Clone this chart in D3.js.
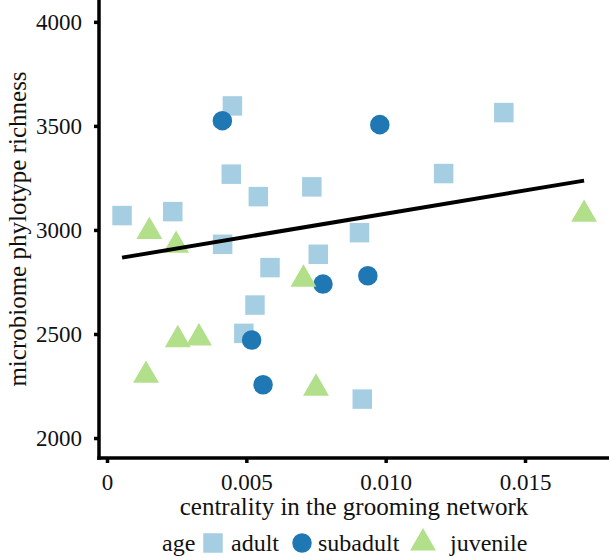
<!DOCTYPE html>
<html>
<head>
<meta charset="utf-8">
<script src="https://cdn.jsdelivr.net/npm/d3@7"></script>
<style>
  html, body { margin: 0; padding: 0; background: #fff; }
  svg { display: block; }
  text { font-family: "Liberation Serif", "Times New Roman", Times, serif; fill: #111; }
</style>
</head>
<body>
<svg id="chart" width="609" height="558"></svg>
<script>
// ---- data ----
const ageGroups = ["adult", "subadult", "juvenile"];
const ageColors = ["#a6cee3", "#1f78b4", "#b2df8a"];

const adultX = [0.00054, 0.00236, 0.00415, 0.00450, 0.00446, 0.00543, 0.00585, 0.00735, 0.00758, 0.00531, 0.00491, 0.00906, 0.00916, 0.01208, 0.01424];
const adultY = [3069, 3088, 2931, 3596, 3268, 3160, 2819, 3207, 2883, 2639, 2503, 2987, 2187, 3271, 3564];

const subadultX = [0.00414, 0.00979, 0.00775, 0.00936, 0.00519, 0.00560];
const subadultY = [3525, 3506, 2740, 2780, 2471, 2256];

const juvenileX = [0.00152, 0.00248, 0.00705, 0.00254, 0.00330, 0.00140, 0.00750, 0.01712];
const juvenileY = [2992, 2926, 2763, 2472, 2481, 2301, 2239, 3075];

const fitX = [0.00054, 0.01712];
const fitY = [2867, 3237];

const xTicks = [0, 0.005, 0.010, 0.015];
const xTickLabels = ["0", "0.005", "0.010", "0.015"];
const yTicks = [2000, 2500, 3000, 3500, 4000];

// ---- layout ----
const svg = d3.select("#chart");
const pLeft = 99, pRight = 609, pTop = 0, pBottom = 458;
const FONT = "'Liberation Serif', 'Times New Roman', Times, serif";

const x = d3.scaleLinear().domain([-0.000287, 0.018014]).range([pLeft, pRight]);
const y = d3.scaleLinear().domain([1904, 4105]).range([pBottom, pTop]);

const color = d3.scaleOrdinal().domain(ageGroups).range(ageColors);

const points = [];
adultX.forEach((v, i) => points.push({x: v, y: adultY[i], age: "adult"}));
subadultX.forEach((v, i) => points.push({x: v, y: subadultY[i], age: "subadult"}));
juvenileX.forEach((v, i) => points.push({x: v, y: juvenileY[i], age: "juvenile"}));

const shape = d3.scaleOrdinal().domain(ageGroups)
  .range([d3.symbolSquare, d3.symbolCircle, d3.symbolTriangle]);
const symSize = {adult: 380, subadult: 300, juvenile: 290};
const symbol = d3.symbol().type(d => shape(d.age)).size(d => symSize[d.age]);

const gPts = svg.append("g");
gPts.selectAll("path").data(points).enter().append("path")
  .attr("d", symbol)
  .attr("transform", d => `translate(${x(d.x)},${y(d.y)})`)
  .attr("fill", d => color(d.age));

// regression line
svg.append("line")
  .attr("x1", x(fitX[0])).attr("y1", y(fitY[0]))
  .attr("x2", x(fitX[1])).attr("y2", y(fitY[1]))
  .attr("stroke", "#000").attr("stroke-width", 4);

// axes
const xAxis = d3.axisBottom(x).tickValues(xTicks).tickFormat((d, i) => xTickLabels[i])
  .tickSize(5).tickPadding(11).tickSizeOuter(0);
const gx = svg.append("g").attr("transform", `translate(0,${pBottom})`).call(xAxis);
gx.attr("font-family", FONT).attr("font-size", 23);
gx.select(".domain").attr("stroke-width", 3.5).attr("d", `M${pLeft - 1.75},0H${pRight}`);
gx.selectAll(".tick line").attr("stroke-width", 3.5);
gx.selectAll(".tick text").attr("fill", "#111");

const yAxis = d3.axisLeft(y).tickValues(yTicks).tickFormat(d3.format("d"))
  .tickSize(5).tickPadding(12).tickSizeOuter(0);
const gy = svg.append("g").attr("transform", `translate(${pLeft},0)`).call(yAxis);
gy.attr("font-family", FONT).attr("font-size", 23);
gy.select(".domain").attr("stroke-width", 3.5).attr("d", `M0,${pTop}V${pBottom + 1.75}`);
gy.selectAll(".tick line").attr("stroke-width", 3.5);
gy.selectAll(".tick text").attr("fill", "#111");

// axis titles
svg.append("text")
  .attr("x", 354).attr("y", 515)
  .attr("text-anchor", "middle").attr("font-size", 25)
  .text("centrality in the grooming network");

svg.append("text")
  .attr("transform", `translate(26,${(pTop + pBottom) / 2}) rotate(-90)`)
  .attr("text-anchor", "middle").attr("font-size", 25)
  .text("microbiome phylotype richness");

// legend
const legY = 543;
const leg = svg.append("g");
leg.append("text").attr("x", 162).attr("y", legY + 8).attr("font-size", 24).text("age");
const legItems = [
  {age: "adult", sx: 213, tx: 231},
  {age: "subadult", sx: 302, tx: 318},
  {age: "juvenile", sx: 423, tx: 450}
];
legItems.forEach(it => {
  leg.append("path")
    .attr("d", d3.symbol().type(shape(it.age)).size(symSize[it.age])())
    .attr("transform", `translate(${it.sx},${legY})`)
    .attr("fill", color(it.age));
  leg.append("text").attr("x", it.tx).attr("y", legY + 8).attr("font-size", 24).text(it.age);
});
</script>
</body>
</html>
